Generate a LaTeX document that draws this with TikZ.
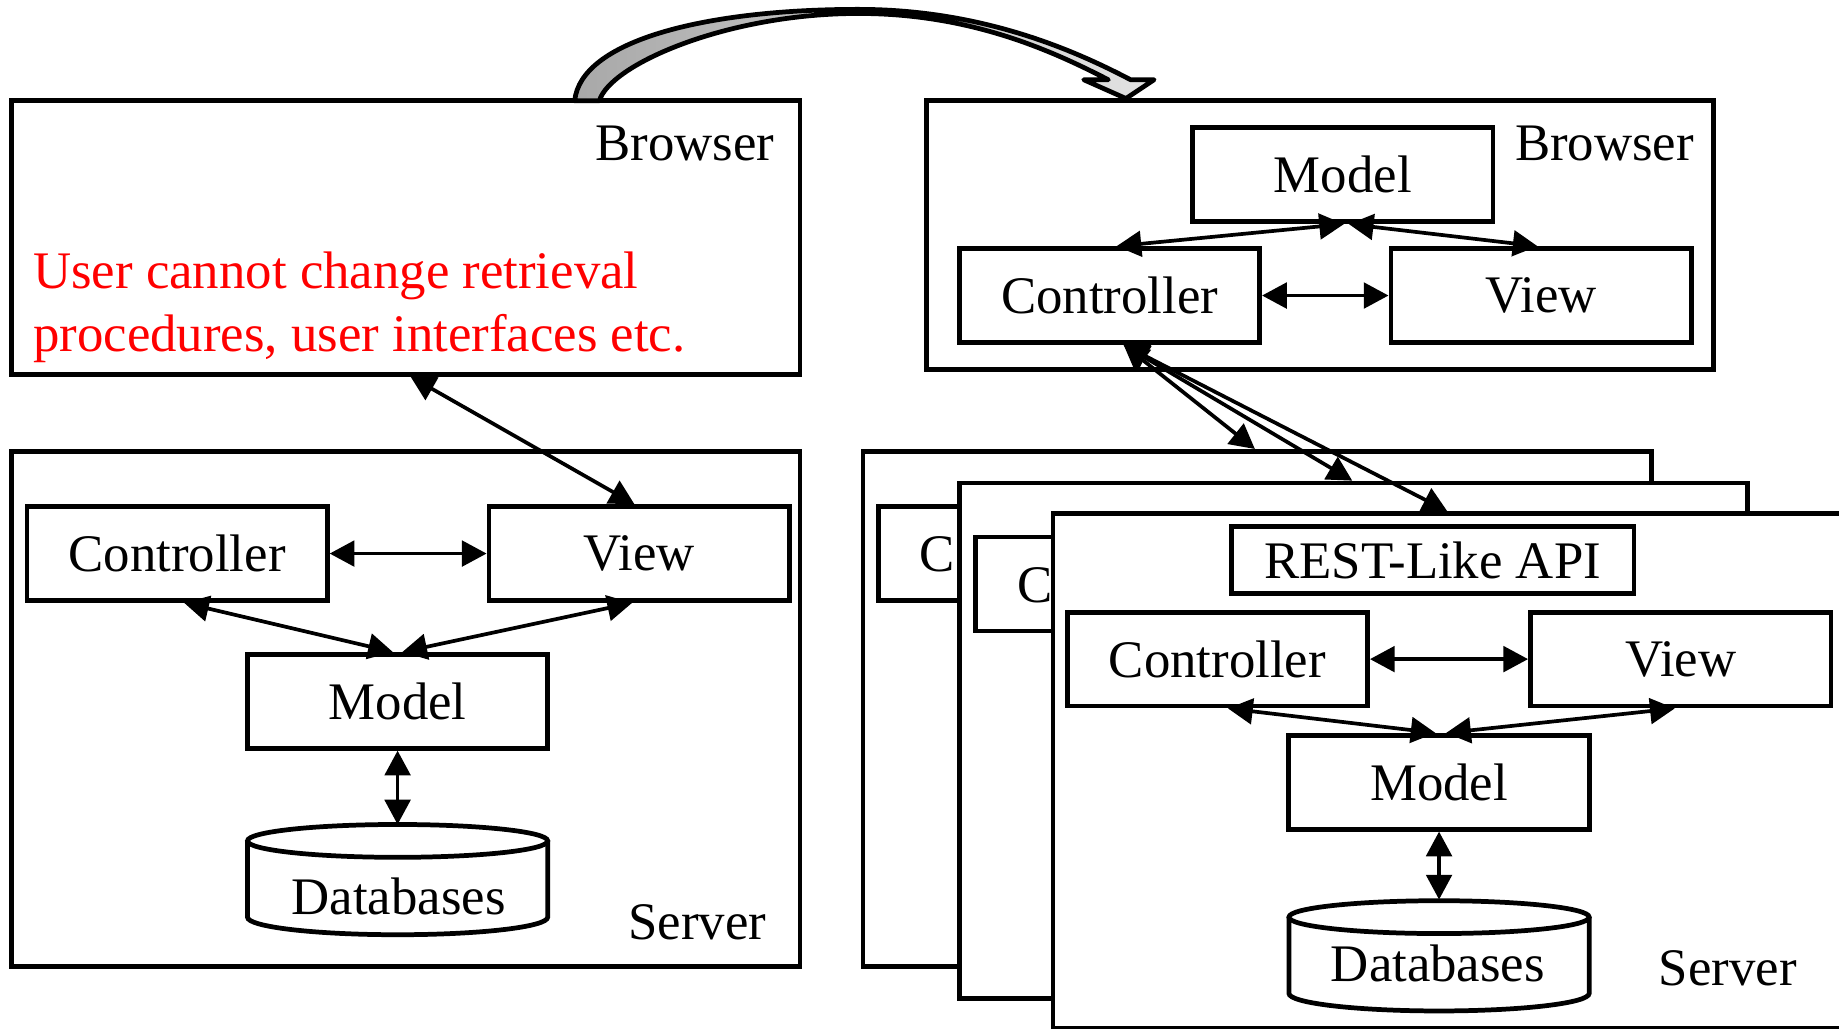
\documentclass[tikz,border=0pt]{standalone}
\usepackage{fontspec}
\setmainfont{Liberation Serif}
\usetikzlibrary{arrows.meta}

\tikzset{
  panel/.style={draw, line width=1.15pt, fill=white, inner sep=0pt},
  unitbox/.style={draw, line width=1.15pt, fill=white, inner sep=0pt,
                  minimum width=2.56cm, minimum height=0.80cm},
  lbl/.style={inner sep=0pt},
  dbl/.style={{Triangle[length=6pt,width=6.2pt]}-{Triangle[length=6pt,width=6.2pt]},
              line width=0.9pt},
  pics/dbcyl/.style={code={
    \draw[line width=1.15pt, fill=white] (-128,0) -- (-128,65)
        arc[start angle=180, end angle=0, x radius=128, y radius=15] -- (128,0);
    \draw[line width=1.15pt, fill=white] (0,0) ellipse[x radius=128, y radius=14];
  }},
}

\begin{document}
\begin{tikzpicture}[x=0.01cm, y=-0.01cm, font=\fontsize{12.8}{15.4}\selectfont]
\useasboundingbox (0,0) rectangle (1568,877);
\clip (0,0) rectangle (1568,877);

% ---------- left: browser + server ----------
\node[panel, minimum width=6.72cm, minimum height=2.33cm] (lb) at (346,202.5) {};
\node[lbl, anchor=base east] (lbname) at (661,136.5) {Browser};
\node[lbl, anchor=base west, text=red] (noteA) at (27.6,245.6) {User cannot change retrieval};
\node[lbl, anchor=base west, text=red] (noteB) at (27.6,299.8) {procedures, user interfaces etc.};

\node[panel, minimum width=6.72cm, minimum height=4.39cm] (ls) at (346,604.5) {};
\node[unitbox] (lc) at (151,472) {Controller};
\node[unitbox] (lv) at (545,472) {View};
\node[unitbox] (lm) at (339,598) {Model};
\pic (ldbcyl) at (339,717) {dbcyl};
\coordinate (ldbtop) at (339,703);
\node[lbl, anchor=base] (ldb) at (340,780) {Databases};
\node[lbl, anchor=base west] (lsname) at (535,801) {Server};

% ---------- right: browser ----------
\node[panel, minimum width=6.71cm, minimum height=2.29cm] (rb) at (1125.5,200.5) {};
\node[lbl, anchor=base east] (rbname) at (1445,136.6) {Browser};
\node[unitbox] (rm) at (1145,149) {Model};
\node[unitbox] (rc) at (946,252) {Controller};
\node[unitbox] (rv) at (1314,252) {View};

% ---------- right: stacked servers (back copies mostly hidden) ----------
\node[panel, minimum width=6.72cm, minimum height=4.39cm] (s1) at (1072,604.5) {};
\node[unitbox] (s1c) at (877,472) {};
\node[lbl, anchor=base west] (s1cl) at (783.5,487.4) {C};
\node[panel, minimum width=6.72cm, minimum height=4.39cm] (s2) at (1154,631.5) {};
\node[unitbox] (s2c) at (960,498) {};
\node[lbl, anchor=base west] (s2cl) at (866.5,513.4) {C};
\node[panel, minimum width=6.72cm, minimum height=4.39cm] (s3) at (1234,657.5) {};
\node[draw, line width=1.15pt, fill=white, inner sep=0pt,
      minimum width=3.43cm, minimum height=0.57cm] (api) at (1221.5,477.5) {REST-Like API};
\node[unitbox] (sc) at (1038,562) {Controller};
\node[unitbox] (sv) at (1433,562) {View};
\node[unitbox] (sm) at (1227,667) {Model};
\pic (rdbcyl) at (1227,782) {dbcyl};
\coordinate (rdbtop) at (1227,767);
\node[lbl, anchor=base] (rdb) at (1226,837) {Databases};
\node[lbl, anchor=base west] (ssname) at (1413.7,840.7) {Server};

% ---------- connectors, left ----------
\draw[dbl] ([xshift=0.04cm]lb.south) -- ([xshift=-0.04cm]lv.north);
\draw[dbl] (lc.east) -- (lv.west);
\draw[dbl] ([xshift=0.06cm]lc.south) -- ([xshift=-0.04cm]lm.north);
\draw[dbl] ([xshift=-0.06cm]lv.south) -- ([xshift=0.04cm]lm.north);
\draw[dbl] (lm.south) -- (ldbtop);

% ---------- connectors, right browser ----------
\draw[dbl] ([xshift=0.06cm]rc.north) -- ([xshift=0.01cm]rm.south);
\draw[dbl] ([xshift=-0.03cm]rv.north) -- ([xshift=0.05cm]rm.south);
\draw[dbl] (rc.east) -- (rv.west);

% ---------- connectors, browser to servers ----------
\draw[dbl] ([xshift=0.12cm]rc.south) -- ([xshift=-0.02cm]s1.north);
\draw[dbl] ([xshift=0.12cm]rc.south) -- ([xshift=-0.01cm]s2.north);
\draw[dbl] ([xshift=0.12cm]rc.south) -- (s3.north);

% ---------- connectors, front server ----------
\draw[dbl] (sc.east) -- (sv.west);
\draw[dbl] ([xshift=0.09cm]sc.south) -- ([xshift=-0.03cm]sm.north);
\draw[dbl] ([xshift=-0.05cm]sv.south) -- ([xshift=0.06cm]sm.north);
\draw[dbl] (sm.south) -- (rdbtop);

% ---------- curved block arrow between the browsers ----------
\shadedraw[line width=1.15pt, line join=round, left color=gray!68, right color=gray!22]
  (490,86) .. controls (495,35) and (600,8) .. (732,8)
           .. controls (840,8) and (920,45) .. (964,68)
  -- (984,68) -- (960,84) -- (924,68) -- (945,68)
           .. controls (900,45) and (830,11.5) .. (732,11.5)
           .. controls (620,11.5) and (520,55) .. (511,86)
  -- cycle;
\end{tikzpicture}
\end{document}
